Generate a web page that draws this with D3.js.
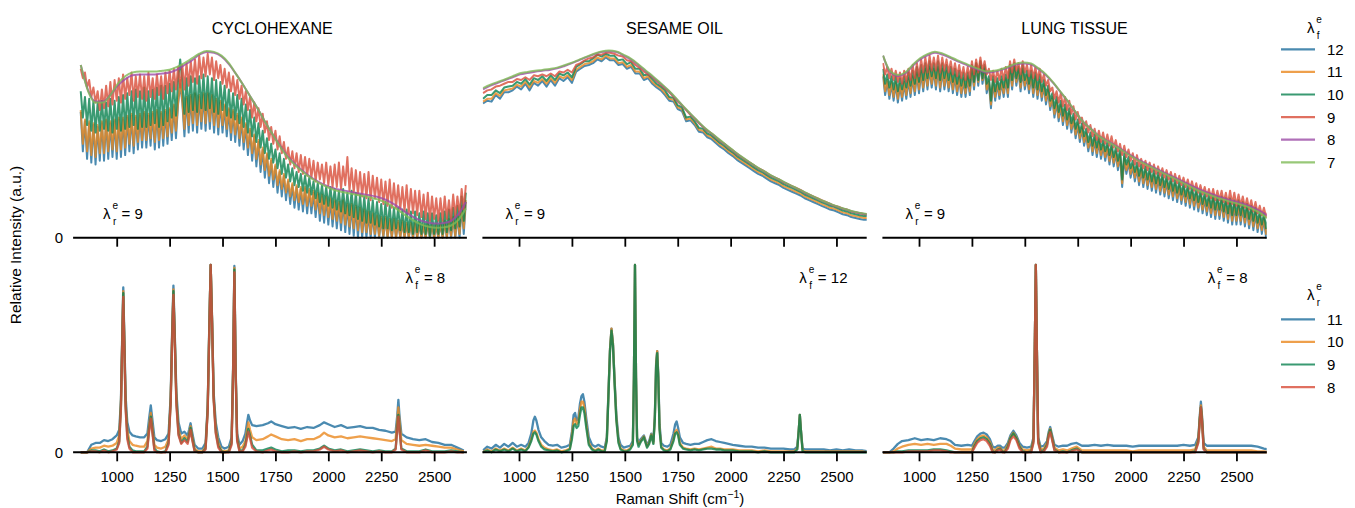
<!DOCTYPE html>
<html>
<head>
<meta charset="utf-8">
<title>Raman spectra</title>
<script src="https://cdn.jsdelivr.net/npm/d3@7"></script>
<style>
  body { margin: 0; background: #fff; }
  #chart svg { display: block; font-family: "Liberation Sans", Arial, sans-serif; }
</style>
</head>
<body>
<div id="chart"></div>
<script>
// ---- labels ----
var panelTitles = ["CYCLOHEXANE", "SESAME OIL", "LUNG TISSUE"];
var topLegendLabels = ["12", "11", "10", "9", "8", "7"];
var bottomLegendLabels = ["11", "10", "9", "8"];
var topNotes = ["9", "9", "9"];
var bottomNotes = ["8", "12", "8"];
var xTickValues = [1000, 1250, 1500, 1750, 2000, 2250, 2500];
var yTickValues = [0];
var shiftLimits = [827, 2643];

// ---- top row: sampling grids (cm-1) ----
var fineShift = d3.range(830, 2651, 10);
var coarseShift = d3.range(830, 2651, 20);
var smoothShift = d3.range(830, 2651, 35);

// cyclohexane, top row (lambda_r = 9), % of panel max, 10 cm-1 steps
var cycloF12 = [67,46,62,42,61,40,60,39,59,41,
  61,41,62,42,61,43,62,42,63,43,
  63,44,64,46,65,45,64,47,65,48,
  66,48,65,49,66,47,67,48,66,49,
  67,50,68,52,70,53,71,82,72,54,
  74,56,75,57,76,56,75,58,76,57,
  76,58,75,56,73,55,72,56,70,54,
  68,52,67,51,65,49,63,47,60,44,
  57,41,54,38,51,35,47,32,44,29,
  41,27,38,24,35,22,33,20,30,18,
  28,16,27,15,26,14,26,13,25,13,
  24,11,23,9,22,8,21,7,20,6,
  19,5,18,4,19,3,17,2,17,1,
  16,0,15,0,14,0,13,0,12,0,
  11,0,10,0,10,0,9,0,9,0,
  8,0,8,0,7,0,7,0,7,0,
  7,0,6,0,7,0,6,0,6,0,
  7,0,8,0,9,0,10,0,11,0,
  16,2,19];
var cycloF11 = [68,50,63,46,62,44,61,43,60,45,
  62,45,63,46,62,47,63,46,64,47,
  64,48,65,50,66,49,65,51,66,52,
  67,52,66,53,67,51,68,52,67,53,
  68,54,69,56,71,57,72,84,73,58,
  75,60,76,61,77,60,76,62,77,61,
  77,62,76,60,74,59,73,60,71,58,
  69,56,68,55,66,53,64,51,61,48,
  58,45,55,42,52,39,48,36,45,33,
  42,31,39,28,36,26,34,24,31,22,
  29,20,28,19,27,18,27,17,26,17,
  25,15,24,13,23,12,22,11,21,10,
  20,9,19,8,20,7,18,6,18,5,
  17,4,16,3,15,3,14,2,13,2,
  12,1,11,1,11,0,10,0,10,0,
  9,0,9,0,8,0,8,0,8,0,
  8,0,7,0,8,0,7,0,7,0,
  8,0,9,0,10,1,11,1,12,2,
  17,5,20];
var cycloF10 = [78,64,75,60,74,57,73,56,72,57,
  73,58,72,57,74,56,73,58,75,57,
  76,58,77,59,78,60,79,58,78,59,
  80,59,78,60,79,61,80,59,81,60,
  81,62,82,64,83,65,84,95,83,66,
  85,67,86,68,85,67,86,69,87,68,
  86,69,85,67,84,66,83,68,81,65,
  79,64,77,63,76,61,74,59,71,56,
  68,54,64,51,61,48,57,45,53,42,
  50,40,47,37,45,34,42,32,39,30,
  37,28,35,27,34,25,33,24,32,23,
  30,21,29,19,28,18,27,17,27,16,
  26,15,25,14,26,13,24,12,25,11,
  24,10,23,9,22,8,21,8,20,7,
  19,6,18,5,19,5,17,4,16,5,
  16,4,15,3,15,3,14,2,14,3,
  13,2,14,2,13,1,13,2,12,2,
  13,2,14,3,15,4,16,5,17,6,
  22,9,24];
var cycloF9 = [90,85,88,80,84,75,80,72,78,68,
  79,69,81,70,83,71,84,73,85,72,
  87,74,85,76,88,73,86,75,87,74,
  86,73,88,75,85,74,87,76,86,74,
  88,77,89,78,90,79,91,80,92,79,
  93,81,94,83,95,82,97,85,96,86,
  98,87,96,84,94,85,92,82,90,80,
  88,78,86,76,84,74,81,71,78,68,
  75,64,72,62,69,59,66,56,62,52,
  59,50,57,47,54,45,51,42,48,39,
  46,37,45,35,44,34,43,33,42,32,
  41,30,40,31,39,29,40,28,38,27,
  39,27,40,26,38,28,43,25,37,24,
  36,23,35,22,34,21,35,20,33,21,
  32,19,31,18,30,17,31,16,29,16,
  28,15,27,14,28,13,26,13,25,12,
  25,11,23,10,24,9,22,10,21,9,
  21,9,22,10,20,9,23,11,22,12,
  26,15,28];
var cycloF8 = [92,78.5,72.5,72.5,76,81,84.5,86.5,87,87,
  87,87.5,88,89.5,92,94.5,97.5,99,98.5,96.5,
  92.5,87,81,74.5,68,61,54.5,48.5,43,39,
  35.5,32.5,30,28,26.5,25.5,24.8,24,23.3,22.6,
  21.8,20.5,18.6,16,13.2,10.8,9,8,7.5,7.8,
  9,12.5,19];
var cycloF7 = [92,78,72,72,76,82,86,88,88.5,88.5,
  88.5,89,89.5,91,93,95.5,98,99.5,99,97,
  93,87,81,74.5,68,61,54.5,48,42.5,38.5,
  35,32,29.5,27.5,25.8,24.6,23.8,23,22.3,21.5,
  20.5,19,17,14.3,11.5,9,7,5.8,5.3,5.5,
  6.5,9.5,15.5];

// sesame oil, top row, 20 cm-1 steps
var sesameF12 = [71.5,73,72.5,76,74,77.5,77.5,78.5,80.5,79,
  82,78.5,82.5,81,83.5,80.5,84,81,85,83.5,
  85.5,82.5,88.5,90,91.5,92,93,95,94,96,
  94.5,94.5,92,92.5,90,91,87.5,87.5,84,85,
  82,80,78.5,76,73,72.5,68.5,67.5,62,62.5,
  60,56.5,56,53.5,52.5,50.5,48.5,47,45,43.5,
  41.5,40,38.5,37,35.5,34,33,31.5,30,29,
  28,26.5,25.5,24.5,23.5,22.5,21,20,19,18,
  17,16,15,14.5,13.5,12.5,12,11,10.5,10,
  9.5,9.5];
var sesameF11 = [72.5,74,74,77,75.5,78.5,79,79.5,81.5,80.5,
  83,80,83.5,82.5,84.5,82,85,82.5,86,85,
  86.5,84,89.5,91,92.5,93,94,96,95,97,
  95.5,95.5,93,93.5,91,92,88.5,88.5,85,86,
  83,81,79.5,77,74,73.5,69.5,68.5,63,63.5,
  61,57.5,57,54.5,53.5,51.5,49.5,48,46,44.5,
  42.5,41,39.5,38,36.5,35,34,32.5,31,30,
  29,27.5,26.5,25.5,24.5,23.5,22,21,20,19,
  18,17,16,15.5,14.5,13.5,13,12,11.5,11,
  10.5,10.5];
var sesameF10 = [74,76,76,78.5,77,80,80.5,81,83,82,
  84.5,81.5,85,84,86,83.5,86.5,84,87.5,86.5,
  88,85.5,91,92.5,94,94,95.5,97.5,96.5,98,
  97,97,94.5,95,92.5,93.5,90,90,86.5,87,
  84.5,82,80.5,78.5,75,74.5,70.5,69.5,64,64.5,
  62,58.5,58,55.5,54.5,52.5,50.5,49,47,45.5,
  43.5,42,40.5,39,37.5,36,35,33.5,32,31,
  30,28.5,27.5,26.5,25.5,24.5,23,22,21,20,
  19,18,17,16.5,15.5,14.5,14,13,12.5,12,
  11.5,11.5];
var sesameF9 = [77,78.5,79,80.5,81,82,83,83,84.5,84,
  85.5,84,86.5,86,87,86,87.5,86,88.5,88,
  89.5,88,92,93,94.5,95.5,96,97.5,97.5,98.5,
  98.5,98,97,96.5,94.5,94,92,90.5,88.5,87,
  85.5,83.5,81.5,79.5,77.5,75,72.5,70.5,68,65.5,
  63.5,61,59,57,55.5,53.5,51.5,50,48,46.5,
  44.5,43,41.5,40,38.5,37,36,34.5,33,32,
  31,29.5,28.5,27.5,26.5,25.5,24,23,22,21,
  20,19,18,17,16.5,15.5,15,14,13.5,13,
  12.5,12.5];
var sesameF8 = [79,81,82.5,84,85.5,87,87.8,88.4,89,89.4,
  90.2,91.5,93,94.6,96.2,97.7,98.9,99.4,98.9,97,
  94.9,91.9,88.6,85.4,82,78.4,74.3,70,65.9,61.9,
  58.1,55,51.8,48.7,45.6,42.7,40,37.4,35.1,32.8,
  30.8,28.8,26.8,24.9,22.9,21,19.2,17.7,16.2,15,
  13.8,13,12.3];
var sesameF7 = [79.7,81.5,83,84.4,86,87.6,88.3,88.9,89.4,89.9,
  90.6,91.9,93.3,94.9,96.5,98,99.2,99.7,99.2,97.4,
  95.3,92.3,89,85.8,82.3,78.7,74.6,70.2,66.1,62.1,
  58.3,55.2,52,48.9,45.8,42.9,40.2,37.6,35.3,33,
  31,29,27,25.1,23.1,21.2,19.4,17.9,16.4,15.2,
  14,13.2,12.5];

// lung tissue, top row, 10 cm-1 steps
var lungF12 = [86,76,83,74,82,73,82,72,81,73,
  82,74,84,75,85,76,87,77,88,78,
  89,79,90,80,89,79,90,78,89,79,
  88,78,87,77,86,76,85,75,84,75,
  85,76,90,79,92,81,93,82,90,77,
  83,69,83,73,82,74,83,75,84,75,
  90,79,91,81,89,78,89,79,86,77,
  86,75,85,74,83,73,81,71,78,68,
  74,64,72,62,70,60,68,58,66,56,
  63,53,60,51,58,49,55,46,53,44,
  52,43,51,42,49,41,48,39,47,38,
  45,36,44,27,42,34,40,32,38,30,
  37,28,36,27,35,26,34,25,33,24,
  32,23,31,22,30,21,29,20,28,19,
  27,18,26,17,25,16,24,15,23,14,
  22,13,21,12,20,11,20,10,19,10,
  19,9,18,8,18,7,17,7,17,7,
  16,6,15,5,14,4,13,3,11,2,
  10,0,6];
var lungF11 = [87,78,84,76,83,75,83,74,82,75,
  83,76,85,77,86,78,88,79,89,80,
  90,81,91,82,90,81,91,80,90,81,
  89,80,88,79,87,78,86,77,85,77,
  86,78,91,81,93,83,94,84,91,79,
  84,71,84,75,83,76,84,77,85,77,
  91,81,92,83,90,80,90,81,87,79,
  87,77,86,76,84,75,82,73,79,70,
  75,66,73,64,71,62,69,60,67,58,
  64,55,61,53,59,51,56,48,54,46,
  53,45,52,44,50,43,49,41,48,40,
  46,38,45,29,43,36,41,34,39,32,
  38,30,37,29,36,28,35,27,34,26,
  33,25,32,24,31,23,30,22,29,21,
  28,20,27,19,26,18,25,17,24,16,
  23,15,22,14,21,13,21,12,20,12,
  20,11,19,10,19,9,18,9,18,9,
  17,8,16,7,15,6,14,5,12,4,
  11,2,7];
var lungF10 = [90,82,87,80,86,79,86,78,85,79,
  86,80,88,81,89,82,91,83,92,84,
  93,85,94,86,93,85,94,84,93,85,
  92,84,91,83,90,82,89,81,88,80,
  88,81,92,83,93,84,94,85,92,82,
  86,73,86,78,85,79,86,80,87,80,
  92,84,93,85,91,83,92,84,89,82,
  89,80,88,79,87,78,84,76,81,73,
  77,69,75,67,73,65,71,63,69,61,
  66,58,63,56,61,54,58,51,56,49,
  55,48,54,47,52,46,51,44,50,43,
  48,41,47,31,45,39,43,37,41,35,
  40,33,39,32,38,31,37,30,36,29,
  35,28,34,27,33,26,32,25,31,24,
  30,23,29,22,28,21,27,20,26,19,
  25,18,24,17,23,16,23,15,22,15,
  22,14,21,13,21,12,20,12,20,12,
  19,11,18,10,17,9,16,8,14,7,
  13,5,10];
var lungF9 = [93,87,91,85,90,84,89,83,88,82,
  89,83,90,84,92,85,93,86,95,88,
  96,88,97,89,96,89,97,88,96,89,
  95,88,94,87,93,86,92,85,91,84,
  91,85,94,87,95,88,96,89,94,87,
  90,84,89,83,89,84,90,84,91,85,
  94,88,95,89,93,87,94,88,92,86,
  92,85,91,84,90,83,87,81,84,78,
  80,74,78,72,77,70,75,68,73,66,
  70,63,67,61,64,58,62,56,60,54,
  58,52,57,51,56,50,55,49,54,48,
  52,46,50,44,49,43,47,41,45,39,
  44,38,42,37,41,36,40,35,39,34,
  38,33,37,32,36,31,35,30,34,29,
  33,28,32,27,31,26,30,25,29,24,
  28,23,27,22,26,21,26,20,25,20,
  25,19,24,18,25,18,24,17,23,17,
  22,16,21,15,20,14,19,13,17,12,
  16,11,14];
var lungF8 = [97,88,86.2,87.5,91.5,95,97.2,98.5,97.6,96,
  94.1,92.5,90.8,89.3,88,88.4,89.4,90.8,92.3,92.8,
  92.3,89.8,86.6,82.3,77.3,72.3,66.9,61.8,58.3,54.7,
  52.3,50,47.6,45,42.7,40.5,38.5,36.5,34.6,32.8,
  30.9,29,27,25.3,23.8,22.3,21.1,19.9,18.8,17.6,
  16,14,11.5];
var lungF7 = [97,88.5,86.7,88,92,95.6,97.8,99.1,98.2,96.5,
  94.6,93,91.3,89.8,88.5,88.9,89.9,91.3,92.8,93.3,
  92.8,90.2,87,82.6,77.6,72.5,67,61.8,58.2,54.5,
  52,49.7,47.2,44.6,42.2,40,38,36,34.1,32.2,
  30.2,28.3,26.2,24.5,23,21.5,20.3,19.1,18,16.8,
  15,13,10];

// ---- bottom row ----
// cyclohexane (lambda_f = 8)
var cycloShift = [830,860,880,900,920,940,960,980,1000,1012,
  1020,1026,1031,1036,1042,1050,1060,1075,1090,1110,
  1130,1145,1153,1161,1169,1178,1190,1210,1230,1245,
  1255,1262,1268,1274,1282,1292,1305,1320,1335,1342,
  1349,1356,1368,1385,1405,1420,1430,1437,1444,1451,
  1458,1468,1480,1495,1510,1530,1543,1550,1556,1562,
  1569,1580,1595,1608,1616,1622,1630,1640,1660,1690,
  1715,1730,1750,1780,1810,1840,1870,1900,1930,1960,
  1980,2000,2030,2060,2090,2120,2150,2180,2210,2240,
  2270,2300,2318,2326,2331,2336,2345,2370,2400,2430,
  2460,2490,2520,2550,2580,2610,2640];
var cycloR11 = [0,0,4,5,5,6.5,6,7,9,12,
  28,62,88,62,30,16,11,9,8.5,8,
  8,10,18,25,17,8,6.5,6,7,10,
  30,65,89,65,32,16,10,11,9,12,
  15.5,11,4,2,2,5,25,65,100,70,
  32,16,8,3,2,3,8,45,99.5,45,
  10,4,6,10,16,20,17,14.5,14,14.5,
  15.5,16.5,15,14,13,13.5,12.5,13.5,13,14.5,
  16,15,13.5,14.5,13,13.5,14,13,13,12,
  11.5,10.5,11,20,28,20,10,8,7,6.5,
  7,5.5,5,4,4,2.5,1];
var cycloR10 = [0,0,2,2.5,2.5,3.5,3,3.5,5,9,
  26,60,86,60,27,12,6,4,3.5,3,
  3,6,14,21,13,4,2.5,2,3,7,
  28,63,87,63,29,12,7,9,7,10,
  14,9,2,0.5,0.5,3,24,64,100,69,
  30,13,5,1,0.5,1,6,44,98.5,44,
  8,2,3,6,12,16,12,8,6.5,7,
  8.5,9.5,8.5,7,6.5,7,6,7,7,8.5,
  10.5,9,8,8.5,7.5,8,8.5,8,7.5,7,
  6.5,6,7,17,24,17,6.5,4.5,4,3.5,
  4,3.5,3,2.5,2.5,1.5,0.5];
var cycloR9 = [0,0,1,1,0.5,1.5,0.5,1,2,6,
  25,59,85,59,25,9,3,1,0.5,0.5,
  0.5,3,12,19,11,2,0.5,0,0.5,5,
  27,62,86,62,27,10,5,7.5,5.5,9,
  13,8,1,0,0,2,23,63,100,68,
  29,11,3.5,0.5,0,0.5,5,43,97.5,43,
  7,1,1,4,9,12.5,9,4,1,1,
  2,2.5,1.5,0.5,1,1,0.5,1,1,2,
  3.5,2,1,1.5,0.5,1,1.5,1,0.5,1,
  0.5,0.5,2,13,20,13,2,0.5,0.5,0.5,
  1.5,0.5,0.5,0.5,1,0.5,0];
var cycloR8 = [0,0,0.5,0.5,0,1,0,0.5,1.5,5,
  23,57,83,57,23,7,2,0,0,0,
  0,2,11,18,10,1,0,0,0,4,
  26,60,84,60,25,9,4.5,6.5,4.5,8,
  12,7,0.5,0,0,1.5,22,62,100,67,
  28,10,2.5,0,0,0,4,42,96,42,
  6,0.5,0.5,3,7.5,11,7.5,2.5,0.5,0,
  1,1.5,0.5,0,0,0.5,0,0.5,0.5,1.5,
  3,1.5,0.5,1,0,0.5,1,0.5,0,0.5,
  0,0,1.5,12,19,12,1.5,0,0,0,
  1,0,0,0,0.5,0,0];

// sesame oil (lambda_f = 12)
var sesameShift = [830,850,870,890,910,930,950,970,990,1010,
  1030,1045,1058,1068,1075,1082,1092,1105,1120,1140,
  1160,1180,1200,1220,1240,1250,1258,1265,1272,1280,
  1288,1295,1302,1309,1318,1330,1345,1360,1375,1390,
  1405,1415,1422,1430,1437,1444,1452,1460,1470,1480,
  1495,1510,1525,1538,1543,1548,1553,1558,1565,1575,
  1590,1605,1615,1625,1635,1642,1648,1653,1658,1664,
  1672,1685,1700,1715,1730,1738,1745,1752,1760,1775,
  1790,1810,1830,1850,1870,1890,1910,1930,1950,1970,
  1990,2010,2040,2070,2100,2130,2160,2190,2220,2250,
  2280,2300,2315,2322,2327,2332,2340,2355,2380,2410,
  2440,2470,2500,2530,2560,2590,2620,2650];
var sesameR11 = [1,3,2,4,2.5,4.5,3,5,3,4,
  3,5,10,17,19,17,12,8,6,4,
  3.5,4,2.5,3,4,11,20,21,17,18,
  26,30,31,27,18,8,4,3,4,3,
  2.5,8,30,55,66,58,38,20,8,4,
  2.5,3,3.5,6,40,100,40,8,5,7,
  9,4,6,10,6,20,48,54,42,15,
  5,3.5,3,4,10,15,16.5,13,8,5,
  4.5,4,4.5,4.5,5.5,6.5,7,6,5.5,5,
  4.5,4,3.5,3,3,2.5,2.5,2,2,2,
  1.5,1.5,3,12,20,12,2,1.5,1.5,1.5,
  1.5,1,1.5,1,1.5,1,1,0.5];
var sesameR10 = [0,1.5,0.5,2,1,2,1,2.5,1,2,
  1,3,7,11,11.6,10.5,7,4,2.5,1.5,
  1,1.5,0.5,1,2,9,17,18,15,16,
  23,27,27,24,15,5,2,1,2,1,
  1,7,29,55,66,58,37,18,6,2,
  1,1,2,5,40,100,40,7,4,6,
  8.5,3,5,9.5,5,19,47,54,41,13,
  3,1.5,1,2,7,11,12,10,5,2.5,
  2,1.5,2,1.5,2,2.5,3,2,2,1.5,
  1.5,1.5,1,1,1,0.5,1,0.5,0.5,0.5,
  0.5,0.5,2,12,20,12,1,0.5,0.5,0.5,
  0.5,0.5,0.5,0.5,0.5,0.5,0.5,0];
var sesameR9 = [0,1,0,1.5,0.5,1.5,0.5,2,0.5,1.5,
  0.5,2.5,6,10,10.7,9.5,6,3,1.5,1,
  0.5,1,0,0.5,1.5,7,14,15,13,14,
  20,24,24,21,13,4,1.5,0.5,1.5,0.5,
  0.5,6,28,54,65,57,36,17,5,1.5,
  0.5,0.5,1.5,4,40,100,40,6,3,5.5,
  8,2.5,4.5,9,4.5,18,46,53,40,12,
  2.5,1,0.5,1.5,6,10,10.7,9,4,2,
  1.5,1,1.5,1,1.5,2,2,1.5,1.5,1,
  1,1,0.5,0.5,0.5,0,0.5,0,0,0,
  0,0,1.5,12,20,12,0.5,0,0,0,
  0,0,0,0,0,0,0,0];

// lung tissue (lambda_f = 8)
var lungShift = [830,860,880,900,920,950,980,1010,1040,1070,
  1100,1130,1150,1170,1200,1230,1250,1262,1275,1290,
  1305,1320,1335,1348,1360,1372,1383,1394,1405,1420,
  1432,1446,1460,1475,1490,1510,1530,1541,1547,1552,
  1557,1563,1575,1590,1605,1613,1620,1627,1640,1660,
  1680,1700,1720,1745,1770,1800,1830,1860,1890,1920,
  1950,1980,2010,2040,2070,2100,2130,2160,2190,2220,
  2250,2280,2305,2320,2327,2332,2337,2345,2360,2390,
  2420,2450,2480,2510,2540,2570,2600,2630,2650];
var lungR11 = [0,0,2,4.5,6,6.5,7.5,6.5,7,6.5,
  7.5,7,6,4,3.5,4,3.5,6,8.5,10,
  10.5,9.5,7,3,2.5,3.5,3.5,2.5,2.5,5,
  9,11.5,9,5,3,2.5,3,8,55,100,
  55,8,3,3.5,6,11,13.5,10,4,3,
  3.5,3.5,4.5,5,3.5,3.5,4,3.5,4,3.5,
  3.5,3.5,3,3.5,3.5,3.5,3.5,3.5,3.5,3.5,
  4,3.5,4,8,20,27,20,5,3.5,3.5,
  3.5,3.5,3.5,3.5,3.5,3.5,3,2,1.5];
var lungR10 = [0,0,0.5,2,3,4,4.5,4,4.5,4,
  4.5,4.5,3.5,2,1.5,1.5,1.5,4.5,7,8.5,
  9,8,5.5,1.5,1,2.5,2.5,1,1,4,
  8,10.5,8,3.5,1.5,1,1.5,7,55,100,
  55,7,1.5,2,5,10,12.5,9,2.5,1,
  1.5,1,2,3,1,1,1,1,1,1,
  1,1,0.5,1,1,1,1,1,1,1,
  1,1,1.5,7,19,25,19,3,1,1,
  1,1,1,1,1,1,0.5,0.5,0];
var lungR9 = [0,0,0,0.5,0.5,1,1,1,1,1.5,
  1.5,1,0.5,0,0,0,0,3.5,6,7.5,
  8,7,4.5,0.5,0,1.5,2,0.5,0,3,
  7.5,10,7.5,3,0.5,0,0.5,6,55,100,
  55,6,0.5,1,4,9.5,12,8.5,1.5,0,
  0.5,0,1,2,0,0,0,0,0,0,
  0,0,0,0,0,0,0,0,0,0,
  0,0,0.5,6,18,24,18,2,0,0,
  0,0,0,0,0,0,0,0,0];
var lungR8 = [0,0,0,0,0,0.5,0.5,0.5,0.5,1,
  1,0.5,0,0,0,0,0,2.5,5,6.5,
  7,6,3.5,0,0,1,1.5,0,0,2,
  6.5,8.5,6.5,2,0,0,0,5,55,100,
  55,5,0,0.5,3,8.5,10.7,7.5,1,0,
  0,0,0.5,1.5,0,0,0,0,0,0,
  0,0,0,0,0,0,0,0,0,0,
  0,0,0,5,17,24,17,1.5,0,0,
  0,0,0,0,0,0,0,0,0];

// ---- layout ----
var W = 1355, H = 508;
var panelLeft = [80.1, 482.4, 882.4];
var panelWidth = 384.3;
var rowZero = [237.7, 452.3];
var rowTop = [50, 265];
var spineExtra = [[7, 2.5], [0, 0], [0, 0]];
var lineColors = ["#1d6d9c", "#ea881f", "#09814f", "#d84c38", "#9c4ca6", "#7eba56"];
var lineOpacity = 0.8;

var topSeries = [
  [cycloF12, cycloF11, cycloF10, cycloF9, cycloF8, cycloF7],
  [sesameF12, sesameF11, sesameF10, sesameF9, sesameF8, sesameF7],
  [lungF12, lungF11, lungF10, lungF9, lungF8, lungF7]
];
var topNoisyShift = [fineShift, coarseShift, fineShift];
var bottomSeries = [
  [cycloR11, cycloR10, cycloR9, cycloR8],
  [sesameR11, sesameR10, sesameR9],
  [lungR11, lungR10, lungR9, lungR8]
];
var bottomShifts = [cycloShift, sesameShift, lungShift];

function topShiftFor(col, i) {
  return i >= 4 ? smoothShift : topNoisyShift[col];
}

var svg = d3.select("#chart").append("svg")
  .attr("width", W)
  .attr("height", H);
svg.append("rect").attr("width", W).attr("height", H).attr("fill", "#fff");
var defs = svg.append("defs");

var xScales = panelLeft.map(function (left) {
  return d3.scaleLinear().domain(shiftLimits).range([left, left + panelWidth]);
});
var yScales = rowZero.map(function (zero, row) {
  return d3.scaleLinear().domain([0, 100]).range([zero, rowTop[row]]);
});

function lambdaText(sel, x, y, sub, rest) {
  var t = sel.append("g").attr("transform", `translate(${x},${y})`);
  t.append("text").attr("font-size", 15).text("λ");
  t.append("text").attr("x", 9.3).attr("y", -10.5).attr("font-size", 10).text("e");
  t.append("text").attr("x", 9.8).attr("y", 5.5).attr("font-size", 10).text(sub);
  if (rest) {
    t.append("text").attr("x", 18.5).attr("font-size", 15).text(rest);
  }
  return t;
}

function drawLines(row, col, seriesList, shiftsFor, smoothFor) {
  var x = xScales[col], y = yScales[row];
  var clipId = "clip-" + row + "-" + col;
  defs.append("clipPath").attr("id", clipId)
    .append("rect")
    .attr("x", x.range()[0] - spineExtra[col][0])
    .attr("y", rowTop[row] - 30)
    .attr("width", panelWidth + spineExtra[col][0] + spineExtra[col][1])
    .attr("height", rowZero[row] - rowTop[row] + 34);

  var g = svg.append("g").attr("clip-path", `url(#${clipId})`);
  seriesList.forEach(function (values, i) {
    var xs = shiftsFor(i);
    var line = d3.line()
      .defined(function (d, j) { return d != null && xs[j] != null; })
      .x(function (d, j) { return x(xs[j]); })
      .y(function (d) { return y(d); })
      .curve(smoothFor(i) ? d3.curveMonotoneX : d3.curveLinear);
    g.append("path")
      .datum(values)
      .attr("fill", "none")
      .attr("stroke", lineColors[i])
      .attr("stroke-opacity", lineOpacity)
      .attr("stroke-width", row === 0 ? 2 : 2.3)
      .attr("stroke-linejoin", "round")
      .attr("d", line);
  });
}

function drawAxis(row, col) {
  var x = xScales[col];
  var zero = rowZero[row];
  var axis = d3.axisBottom(x)
    .tickValues(xTickValues)
    .tickSize(9)
    .tickSizeOuter(0)
    .tickPadding(10.5)
    .tickFormat(row === 0 ? "" : d3.format("d"));

  var ax = svg.append("g")
    .attr("transform", `translate(0,${zero})`)
    .call(axis);
  ax.select(".domain").remove();
  ax.selectAll(".tick line").attr("stroke", "#000").attr("stroke-width", 1.8);
  ax.selectAll(".tick text")
    .attr("fill", "#000")
    .attr("font-size", 15)
    .attr("font-family", '"Liberation Sans", Arial, sans-serif');

  svg.append("line")
    .attr("x1", x.range()[0] - spineExtra[col][0])
    .attr("x2", x.range()[1] + spineExtra[col][1])
    .attr("y1", zero)
    .attr("y2", zero)
    .attr("stroke", "#000")
    .attr("stroke-width", 2);

  if (col === 0) {
    svg.selectAll(null)
      .data(yTickValues)
      .enter()
      .append("text")
      .attr("x", 63)
      .attr("y", function (d) { return yScales[row](d); })
      .attr("dy", "0.36em")
      .attr("text-anchor", "end")
      .attr("font-size", 15)
      .text(function (d) { return d; });
  }
}

// top row
topSeries.forEach(function (seriesList, col) {
  drawLines(0, col, seriesList,
    function (i) { return topShiftFor(col, i); },
    function (i) { return i >= 4; });
  drawAxis(0, col);

  svg.append("text")
    .attr("x", panelLeft[col] + panelWidth / 2)
    .attr("y", 34.3)
    .attr("text-anchor", "middle")
    .attr("font-size", 16)
    .text(panelTitles[col]);

  lambdaText(svg, panelLeft[col] + 23, 219.3, "r", "= " + topNotes[col]);
});

// bottom row
bottomSeries.forEach(function (seriesList, col) {
  drawLines(1, col, seriesList,
    function () { return bottomShifts[col]; },
    function () { return false; });
  drawAxis(1, col);

  var note = lambdaText(svg, 0, 283.3, "f", "= " + bottomNotes[col]);
  var box = note.node().getBBox();
  var right = panelLeft[col] + panelWidth * 0.95;
  note.attr("transform", `translate(${right - box.x - box.width},283.3)`);
});

// legends
function drawLegend(titleY, firstY, labels, sub) {
  lambdaText(svg, 1307, titleY, sub, null);
  var items = svg.selectAll(null)
    .data(labels)
    .enter()
    .append("g")
    .attr("transform", function (d, i) { return `translate(0,${firstY + i * 22.6})`; });
  items.append("line")
    .attr("x1", 1281)
    .attr("x2", 1315)
    .attr("stroke", function (d, i) { return lineColors[i]; })
    .attr("stroke-opacity", lineOpacity)
    .attr("stroke-width", 2.2);
  items.append("text")
    .attr("x", 1327)
    .attr("dy", "0.36em")
    .attr("font-size", 15)
    .text(function (d) { return d; });
}
drawLegend(33.3, 49.3, topLegendLabels, "f");
drawLegend(300, 319.3, bottomLegendLabels, "r");

// axis titles
svg.append("text")
  .attr("transform", "translate(21,245) rotate(-90)")
  .attr("text-anchor", "middle")
  .attr("font-size", 15.5)
  .text("Relative Intensity (a.u.)");

var xlab = svg.append("text")
  .attr("x", 680)
  .attr("y", 504)
  .attr("text-anchor", "middle")
  .attr("font-size", 15);
xlab.append("tspan").text("Raman Shift (cm");
xlab.append("tspan").attr("dy", -6).attr("font-size", 10.5).text("−1");
xlab.append("tspan").attr("dy", 6).text(")");

// sanity check on hand-typed arrays
var problems = [];
topSeries.forEach(function (list, col) {
  list.forEach(function (s, i) {
    var n = topShiftFor(col, i).length;
    if (s.length !== n) problems.push("top " + col + "/" + i + ": " + s.length + " vs " + n);
  });
});
bottomSeries.forEach(function (list, col) {
  list.forEach(function (s, i) {
    if (s.length !== bottomShifts[col].length) problems.push("bottom " + col + "/" + i + ": " + s.length + " vs " + bottomShifts[col].length);
  });
});
if (problems.length) throw new Error(problems.join("; "));
</script>
</body>
</html>
